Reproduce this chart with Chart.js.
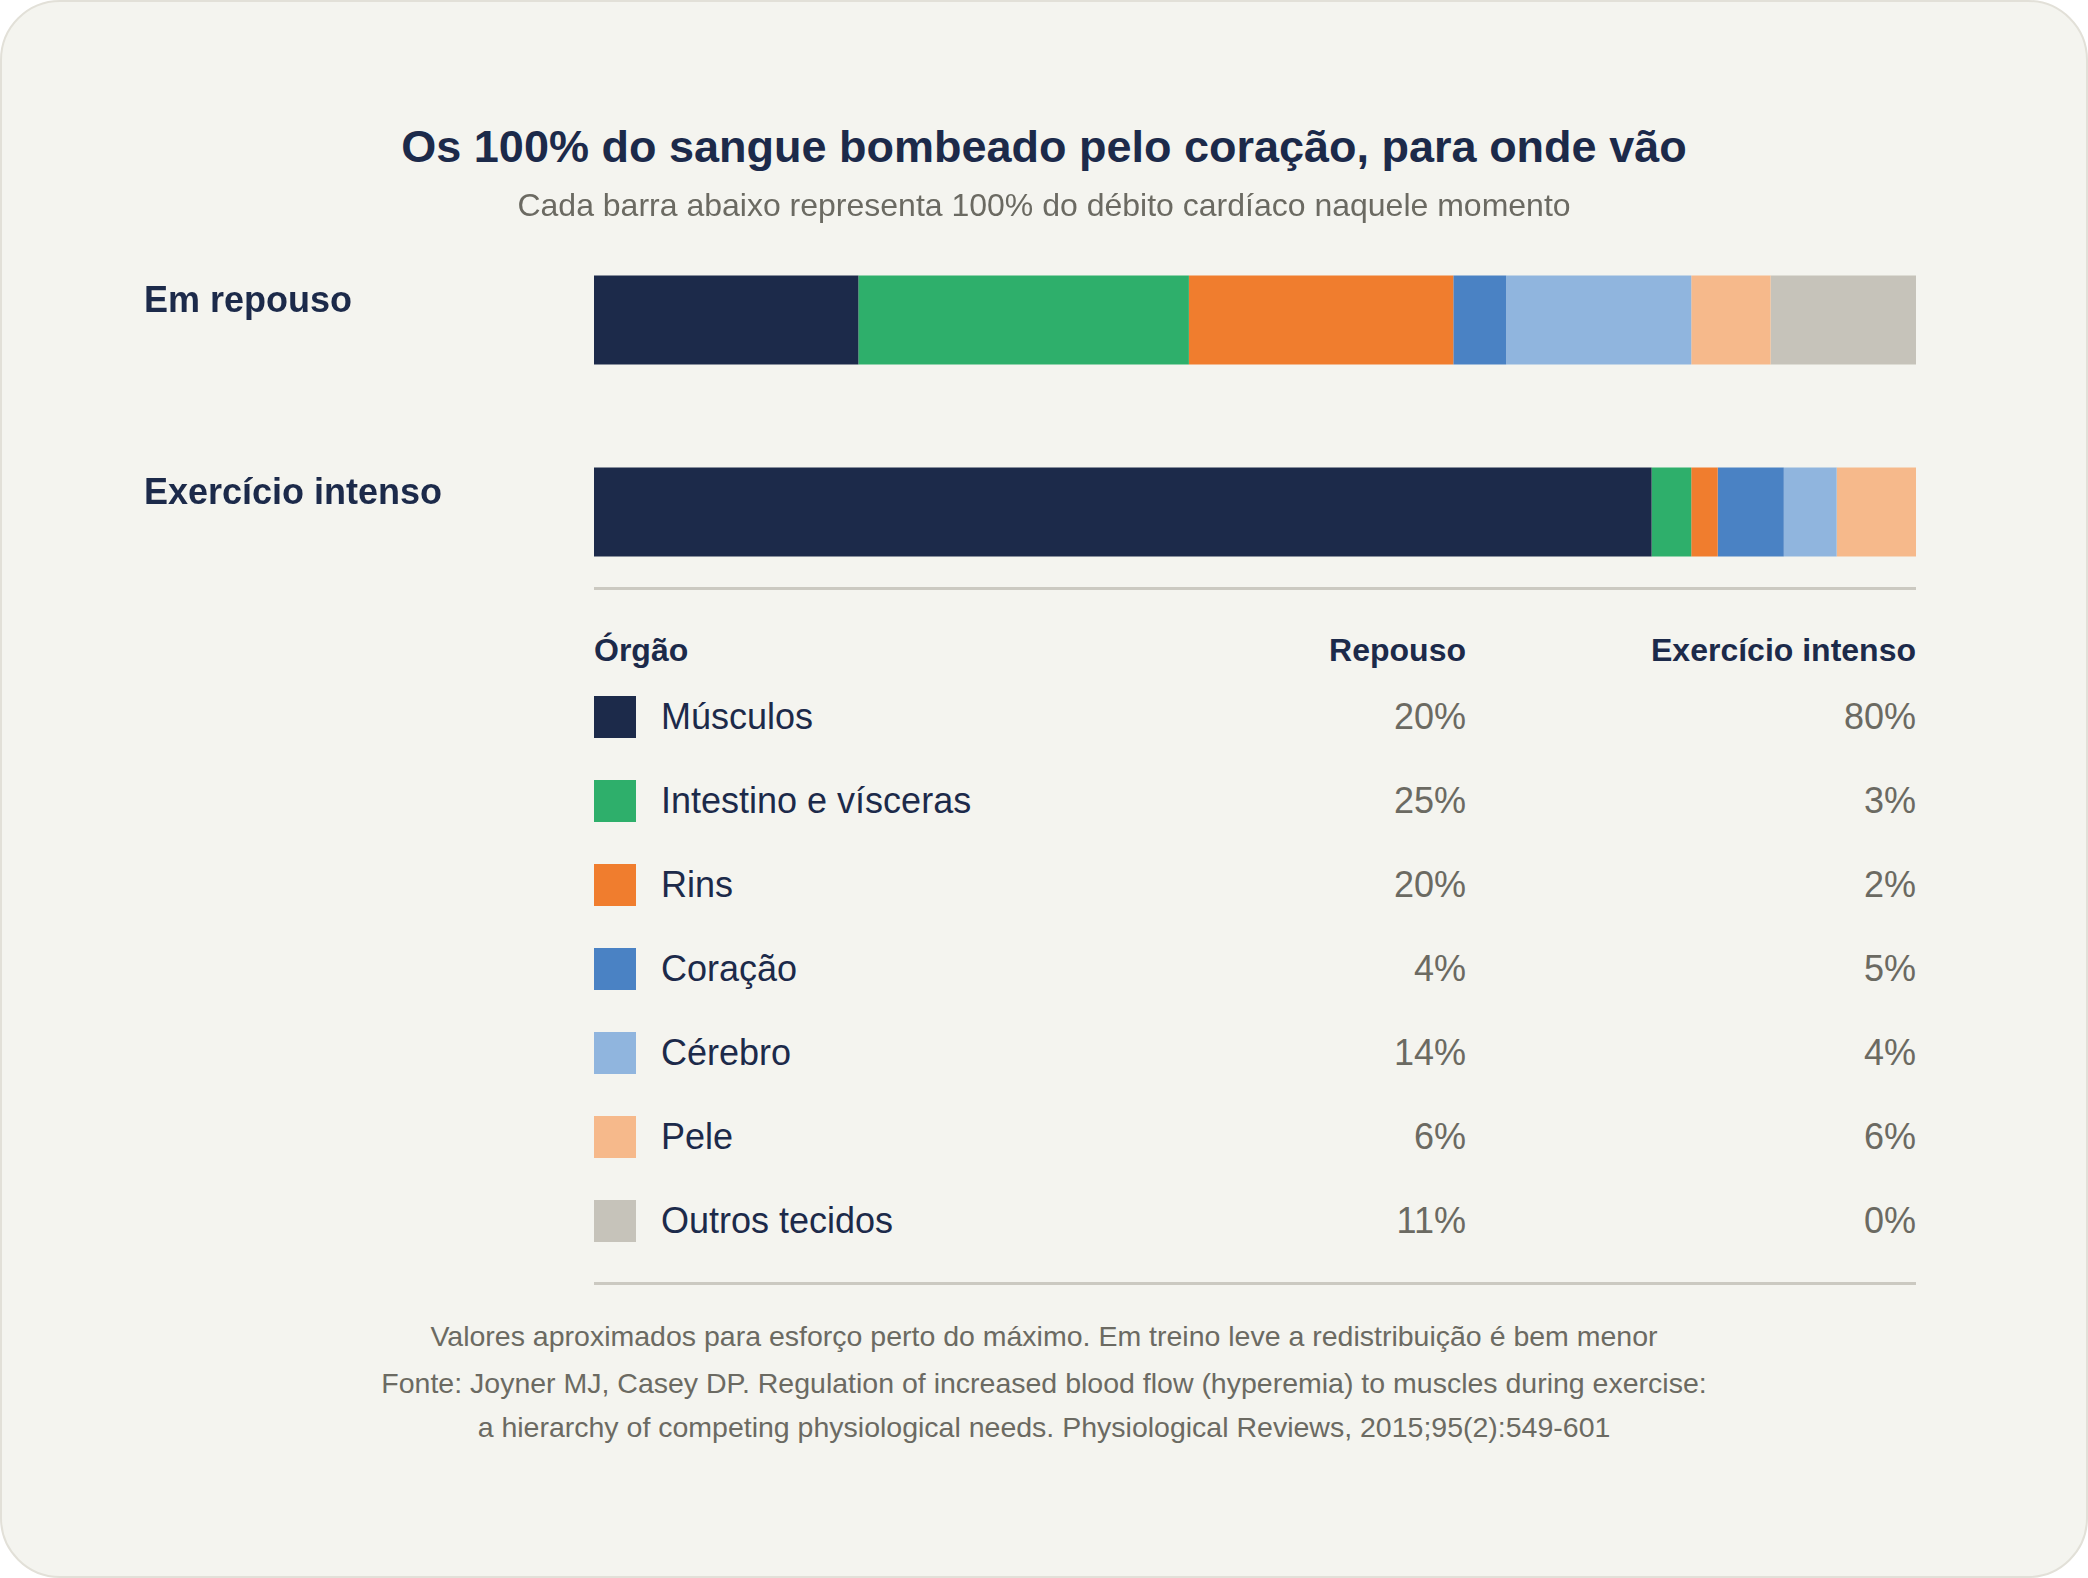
<!DOCTYPE html>
<html lang="pt">
<head>
<meta charset="utf-8">
<title>Débito cardíaco</title>
<script src="https://cdn.jsdelivr.net/npm/chart.js@4.4.1/dist/chart.umd.min.js"></script>
<style>
  html, body { margin: 0; padding: 0; background: #ffffff; }
  body { width: 2088px; height: 1578px; position: relative; overflow: hidden;
         font-family: "Liberation Sans", Arial, sans-serif; }
  .cartao { position: absolute; left: 0; top: 0; width: 2084px; height: 1574px;
            background: #f4f4ef; border: 2px solid #e2e0d8; border-radius: 60px; }
  .linha { position: absolute; white-space: nowrap; }
  .centro { left: 0; width: 2088px; text-align: center; }
  .titulo { font-size: 45px; font-weight: bold; color: #1c2a4a; }
  .subtitulo { font-size: 32px; color: #6b6a62; }
  .cab { font-size: 32px; font-weight: bold; color: #1c2a4a; }
  .nome { font-size: 36px; color: #1c2a4a; }
  .valor { font-size: 36px; color: #6b6a62; text-align: right; }
  .nota { font-size: 28.5px; color: #6b6a62; }
  .regua { position: absolute; left: 594px; width: 1322px; height: 3px; background: #cbc9c1; }
  .amostra { position: absolute; left: 594px; width: 42px; height: 42px; }
  #areaGrafico { position: absolute; left: 0; top: 224px; width: 2088px; height: 384px; }
</style>
</head>
<body>
<div class="cartao"></div>
<div id="areaGrafico"><canvas id="graficoSangue"></canvas></div>
<div id="conteudo"></div>

<script>
// dados (% do débito cardíaco)
const momentos = ['Em repouso', 'Exercício intenso'];
const orgaos = ['Músculos', 'Intestino e vísceras', 'Rins', 'Coração', 'Cérebro', 'Pele', 'Outros tecidos'];
const valoresRepouso = [20, 25, 20, 4, 14, 6, 11];
const valoresExercicio = [80, 3, 2, 5, 4, 6, 0];
const cores = ['#1c2a4a', '#2eaf6b', '#f07d2e', '#4a82c4', '#90b5de', '#f6b98b', '#c6c3ba'];

const titulo = 'Os 100% do sangue bombeado pelo coração, para onde vão';
const subtitulo = 'Cada barra abaixo representa 100% do débito cardíaco naquele momento';
const cabecalhos = ['Órgão', 'Repouso', 'Exercício intenso'];
const notas = [
  'Valores aproximados para esforço perto do máximo. Em treino leve a redistribuição é bem menor',
  'Fonte: Joyner MJ, Casey DP. Regulation of increased blood flow (hyperemia) to muscles during exercise:',
  'a hierarchy of competing physiological needs. Physiological Reviews, 2015;95(2):549-601'
];

const conteudo = document.getElementById('conteudo');

// cria uma linha de texto centrada verticalmente em "centroY"
function criarTexto(texto, classes, centroY, estilo) {
  const el = document.createElement('div');
  el.className = 'linha ' + classes;
  el.textContent = texto;
  el.style.top = (centroY - 25) + 'px';
  el.style.height = '50px';
  el.style.lineHeight = '50px';
  Object.assign(el.style, estilo || {});
  conteudo.appendChild(el);
  return el;
}

function criarRegua(y) {
  const el = document.createElement('div');
  el.className = 'regua';
  el.style.top = y + 'px';
  conteudo.appendChild(el);
}

function montarTextos() {
  criarTexto(titulo, 'centro titulo', 147);
  criarTexto(subtitulo, 'centro subtitulo', 205);

  criarRegua(587);

  criarTexto(cabecalhos[0], 'cab', 650, { left: '594px' });
  criarTexto(cabecalhos[1], 'cab', 650, { right: '622px', textAlign: 'right' });
  criarTexto(cabecalhos[2], 'cab', 650, { right: '172px', textAlign: 'right' });

  orgaos.forEach((orgao, i) => {
    const centroY = 717 + 84 * i;
    const amostra = document.createElement('div');
    amostra.className = 'amostra';
    amostra.style.top = (centroY - 21) + 'px';
    amostra.style.background = cores[i];
    conteudo.appendChild(amostra);

    criarTexto(orgao, 'nome', centroY, { left: '661px' });
    criarTexto(valoresRepouso[i] + '%', 'valor', centroY, { right: '622px' });
    criarTexto(valoresExercicio[i] + '%', 'valor', centroY, { right: '172px' });
  });

  criarRegua(1282);

  notas.forEach((nota, i) => {
    criarTexto(nota, 'centro nota', [1336, 1383, 1427][i]);
  });
}

function gerarGrafico() {
  const ctx = document.getElementById('graficoSangue').getContext('2d');

  const datasets = orgaos.map((orgao, i) => ({
    label: orgao,
    data: [valoresRepouso[i], valoresExercicio[i]],
    backgroundColor: cores[i],
    borderWidth: 0,
    categoryPercentage: 1,
    barPercentage: 89 / 192
  }));

  window.graficoSangue = new Chart(ctx, {
    type: 'bar',
    data: { labels: momentos, datasets: datasets },
    options: {
      indexAxis: 'y',
      responsive: true,
      maintainAspectRatio: false,
      animation: false,
      events: [],
      layout: { padding: { left: 144, right: 172, top: 0, bottom: 0 } },
      scales: {
        x: {
          stacked: true,
          min: 0,
          max: 100,
          display: false
        },
        y: {
          stacked: true,
          grid: { display: false },
          border: { display: false },
          afterFit: function(escala) {
            // largura fixa para a coluna dos rótulos e sem folga vertical
            escala.width = 450;
            escala.paddingTop = 0;
            escala.paddingBottom = 0;
          },
          ticks: {
            crossAlign: 'far',
            labelOffset: -18,
            padding: 0,
            color: '#1c2a4a',
            font: { family: '"Liberation Sans", Arial, sans-serif', size: 36, weight: 'bold' }
          }
        }
      },
      plugins: {
        legend: { display: false },
        tooltip: { enabled: false }
      }
    }
  });
}

montarTextos();
gerarGrafico();
</script>
</body>
</html>
